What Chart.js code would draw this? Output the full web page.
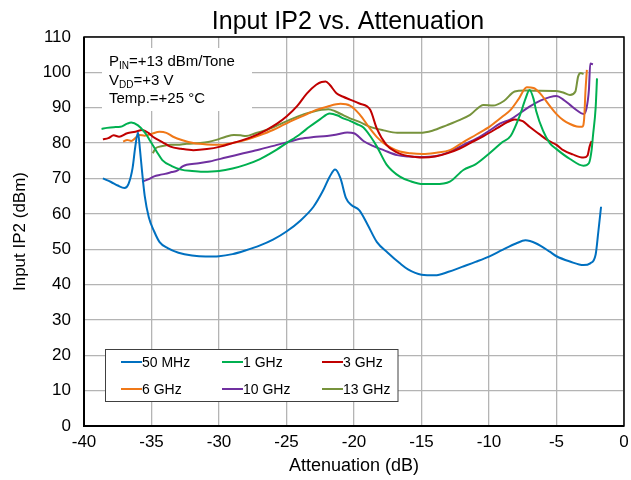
<!DOCTYPE html>
<html>
<head>
<meta charset="utf-8">
<script src="https://cdn.jsdelivr.net/npm/chart.js@4.4.0/dist/chart.umd.min.js"></script>
<style>
  html, body { margin: 0; padding: 0; background: #fff; }
</style>
</head>
<body>
<canvas id="ip2-chart" width="631" height="480"></canvas>
<script>
// series labels + colours
var seriesNames = ['50 MHz', '1 GHz', '3 GHz', '6 GHz', '10 GHz', '13 GHz'];
var seriesColors = ['#0070C0', '#00B050', '#C00000', '#F07818', '#7030A0', '#77933C'];

// attenuation (dB) / input IP2 (dBm)
var att50M = [-38.6, -38, -37.5, -37, -36.7, -36.4, -36.2, -36.0, -35.85, -35.7, -35.5, -35.2, -34.8, -34.4, -33.8, -33, -32, -31, -30, -29, -28, -27, -26, -25, -24, -23, -22.3, -21.8, -21.4, -21, -20.6, -20.2, -19.6, -19, -18.3, -17.5, -16.6, -16, -15, -14, -13, -12, -11, -10, -9, -8, -7.3, -6.5, -5.5, -5, -4, -3, -2.5, -2.1, -1.9, -1.7];
var ip2_50M = [70, 69, 68, 67.3, 68.5, 73, 79, 83, 78, 72, 65, 59, 55, 52, 50.3, 49, 48.2, 47.9, 48, 48.6, 49.7, 51, 52.7, 55, 58, 62, 66.5, 70.5, 72.5, 70, 64.5, 62.5, 61, 57, 52, 49, 46, 44.3, 42.8, 42.6, 43.6, 45, 46.4, 47.9, 49.8, 51.6, 52.5, 51.6, 49.3, 48, 46.5, 45.5, 46, 48.5, 55, 62];

var att1G = [-38.7, -38.3, -37.8, -37.3, -36.8, -36.5, -36.0, -35.5, -35.0, -34.6, -34.2, -33.5, -32.8, -32, -31.2, -30, -29, -28, -27, -26, -25, -24, -23.3, -22.5, -21.8, -21.2, -20.8, -20.3, -19.8, -19.3, -18.8, -18.3, -17.6, -16.6, -15.8, -14.9, -14, -12.9, -11.9, -11, -10, -9, -8.4, -7.7, -7.3, -7.0, -6.7, -6.5, -6.0, -5.5, -5.0, -4.0, -3.0, -2.6, -2.4, -2.3, -2.1, -2.0];
var ip2_1G = [84, 84.3, 84.5, 84.6, 85.5, 85.8, 85, 83, 80, 77.5, 75.2, 73.5, 72.5, 72.1, 71.9, 72.1, 72.8, 73.9, 75.4, 77.5, 80, 82.5, 84.6, 86.8, 88.4, 87.8, 87, 86.3, 85.4, 84.4, 82, 79, 74, 70.5, 69.2, 68.4, 68.4, 69.1, 72.4, 74, 77, 80.3, 82, 88, 92.5, 95, 92.5, 89, 83.5, 80, 78.3, 75.5, 73.6, 74.3, 78, 82, 90, 98.3];

var att3G = [-38.6, -38.2, -37.8, -37.4, -36.8, -36.2, -35.7, -35.2, -34.9, -34.2, -33.6, -32.8, -31.9, -30.9, -29.9, -29, -28.2, -27.3, -26.5, -25.7, -25, -24.2, -23.5, -22.8, -22.4, -22.1, -21.8, -21.3, -20.8, -20.3, -19.6, -18.8, -18.3, -17.6, -16.9, -16.3, -15.5, -14.9, -13.9, -13.1, -12.2, -11.4, -10.4, -9.4, -8.6, -8.1, -7.5, -7.0, -6.3, -5.7, -5.0, -4.5, -3.8, -3.0, -2.7, -2.55, -2.4];
var ip2_3G = [81.1, 81.4, 82.2, 81.8, 82.8, 83.2, 83.7, 82.8, 81.8, 80.3, 79, 78.4, 78, 78.3, 79, 80, 80.9, 82.2, 83.7, 85.5, 87.5, 90.5, 94, 96.5, 97.3, 97.4, 96.5, 94.1, 93.1, 92.3, 91.2, 89.4, 84, 79.5, 77.5, 76.6, 76.1, 75.9, 76.3, 77.1, 78.4, 80, 82, 84.2, 86, 86.7, 86.2, 84.6, 82.6, 80.9, 79.5, 78, 76.8, 75.9, 76.5, 79, 80.6];

var att6G = [-37.1, -36.8, -36.5, -36.2, -35.9, -35.5, -35, -34.4, -33.9, -33.4, -32.7, -31.9, -30.9, -29.9, -29, -28, -27, -26, -25.2, -24.5, -23.6, -22.8, -22, -21.0, -20.3, -19.6, -18.8, -18.3, -17.8, -17.2, -16.6, -15.8, -14.9, -13.9, -12.9, -11.9, -10.9, -9.9, -9, -8.4, -7.8, -7.2, -6.7, -6.2, -5.5, -5.0, -4.5, -4.0, -3.5, -3.1, -2.95, -2.85, -2.75];
var ip2_6G = [80.4, 80.9, 80.6, 81.4, 82.3, 82.1, 82.6, 83.2, 82.9, 81.8, 80.8, 80, 79.6, 79.5, 80, 80.9, 82.2, 83.7, 85.2, 86.5, 88, 89.4, 90.3, 91.1, 90.6, 88.2, 84, 81.7, 80, 78.6, 77.6, 77.1, 76.9, 77.3, 78, 80.3, 82.5, 84.8, 87.5, 89.4, 92.5, 95.8, 95.6, 94, 90.5, 88.2, 86.5, 85.4, 84.7, 84.6, 87, 95, 100.7];

var att10G = [-35.7, -35.2, -34.8, -34.4, -34, -33.5, -33.1, -32.7, -32.4, -31.5, -30.7, -29.5, -28.2, -27, -25.7, -24.8, -24, -23, -22, -21.2, -20.5, -20, -19.3, -18.6, -17.8, -16.8, -16, -15.1, -14, -12.9, -11.9, -10.9, -9.9, -9.2, -8.4, -7.7, -7.0, -6.2, -5.5, -5.0, -4.5, -4.0, -3.5, -3.0, -2.8, -2.6, -2.5, -2.3];
var ip2_10G = [69.1, 69.8, 70.6, 71, 71.3, 71.8, 72.2, 73.4, 73.9, 74.3, 74.8, 75.9, 77.1, 78.2, 79.5, 80.4, 81.2, 81.7, 82, 82.5, 83, 82.8, 80.6, 79.2, 78, 76.6, 76.2, 76.1, 76.3, 77.5, 79.5, 81.3, 83.7, 85.5, 86.7, 88.5, 90.3, 92, 93, 93.3, 92.3, 90.8, 89.3, 88.2, 89.5, 95, 102.5, 102.3];

var att13G = [-34.9, -34.7, -34.4, -34.0, -33.6, -33.1, -32.4, -31.4, -30.8, -30.2, -29.5, -28.9, -28.4, -28, -27.3, -26.5, -25.5, -24.5, -23.7, -23, -22.4, -21.9, -21.4, -20.8, -20.3, -19.6, -18.8, -17.8, -16.8, -15.1, -14.2, -13.1, -12.2, -11.4, -10.4, -9.7, -8.9, -8.1, -7.4, -6.7, -5.0, -4.5, -4.0, -3.6, -3.4, -3.2, -3.0];
var ip2_13G = [77.1, 78.5, 79, 79.3, 79.5, 79.5, 79.8, 80, 80.3, 80.9, 81.8, 82.3, 82.2, 82, 82.8, 83.7, 85.3, 87, 88.2, 88.9, 89.4, 89.6, 89, 87.9, 87, 86, 84.6, 83.6, 82.9, 82.9, 83.5, 85.1, 86.5, 88, 90.8, 90.6, 91.9, 94.6, 94.9, 94.8, 94.7, 94.3, 93.6, 94.6, 98.8, 99.8, 99.5];

var xTickStep = 5;
var yTickStep = 10;

var xSeries = [att50M, att1G, att3G, att6G, att10G, att13G];
var ySeries = [ip2_50M, ip2_1G, ip2_3G, ip2_6G, ip2_10G, ip2_13G];

function toPoints(xs, ys) {
  var pts = [];
  for (var i = 0; i < xs.length; i++) {
    pts.push({ x: xs[i], y: ys[i] });
  }
  return pts;
}

var datasets = seriesNames.map(function (name, i) {
  return {
    label: name,
    data: toPoints(xSeries[i], ySeries[i]),
    borderColor: seriesColors[i],
    backgroundColor: seriesColors[i],
    borderWidth: 2,
    pointRadius: 0,
    cubicInterpolationMode: 'monotone',
    fill: false
  };
});

var FONT = '"Liberation Sans", Arial, sans-serif';

// title, plot frame, conditions note and legend box
var decorPlugin = {
  id: 'decor',
  afterDraw: function (chart) {
    var ctx = chart.ctx;
    var a = chart.chartArea;
    ctx.save();

    // frame
    ctx.strokeStyle = '#000';
    ctx.lineWidth = 1.5;
    ctx.strokeRect(a.left, a.top, a.right - a.left, a.bottom - a.top);
    ctx.lineWidth = 2;
    ctx.beginPath();
    ctx.moveTo(a.left, a.top);
    ctx.lineTo(a.left, a.bottom);
    ctx.lineTo(a.right, a.bottom);
    ctx.stroke();

    // title
    ctx.fillStyle = '#000';
    ctx.font = '25px ' + FONT;
    ctx.textAlign = 'center';
    ctx.textBaseline = 'alphabetic';
    ctx.fillText('Input IP2 vs. Attenuation', 348, 29);

    // test conditions note
    ctx.fillStyle = '#fff';
    ctx.fillRect(102, 48, 150, 63);
    ctx.fillStyle = '#000';
    ctx.textAlign = 'left';
    function sub(main, low, rest, x, y) {
      ctx.font = '15px ' + FONT;
      ctx.fillText(main, x, y);
      x += ctx.measureText(main).width;
      ctx.font = '10px ' + FONT;
      ctx.fillText(low, x, y + 3);
      x += ctx.measureText(low).width;
      ctx.font = '15px ' + FONT;
      ctx.fillText(rest, x, y);
    }
    sub('P', 'IN', '=+13 dBm/Tone', 109, 66);
    sub('V', 'DD', '=+3 V', 109, 84.5);
    ctx.font = '15px ' + FONT;
    ctx.fillText('Temp.=+25 \u00B0C', 109, 103);

    // legend
    ctx.fillStyle = '#fff';
    ctx.fillRect(105.5, 349.5, 292.5, 52);
    ctx.strokeStyle = '#404040';
    ctx.lineWidth = 1;
    ctx.strokeRect(105.5, 349.5, 292.5, 52);
    var cols = [121, 222, 322];
    var rows = [362, 389];
    ctx.font = '14px ' + FONT;
    ctx.textBaseline = 'middle';
    chart.data.datasets.forEach(function (ds, i) {
      var x = cols[i % 3];
      var y = rows[Math.floor(i / 3)];
      ctx.strokeStyle = ds.borderColor;
      ctx.lineWidth = 2;
      ctx.beginPath();
      ctx.moveTo(x, y);
      ctx.lineTo(x + 21, y);
      ctx.stroke();
      ctx.fillStyle = '#000';
      ctx.fillText(ds.label, x + 21, y + 1);
    });

    ctx.restore();
  }
};

var gridColor = '#b4b4b4';

var ip2Chart = new Chart(document.getElementById('ip2-chart'), {
  type: 'line',
  data: { datasets: datasets },
  options: {
    responsive: false,
    animation: false,
    layout: { padding: { top: 37, right: 7, left: 0, bottom: 0 } },
    plugins: {
      legend: { display: false },
      title: { display: false },
      tooltip: { enabled: false }
    },
    scales: {
      x: {
        type: 'linear',
        min: -40,
        max: 0,
        ticks: { stepSize: xTickStep, color: '#000', font: { size: 17, family: FONT }, padding: 6 },
        grid: { color: gridColor, lineWidth: 1.3, drawTicks: false },
        border: { display: false },
        title: { display: true, text: 'Attenuation (dB)', color: '#000', font: { size: 18, family: FONT }, padding: { top: 1, bottom: 3 } },
        afterFit: function (scale) {
          scale.height = 54;
          scale.paddingRight = 4;
        }
      },
      y: {
        type: 'linear',
        min: 0,
        max: 110,
        ticks: { stepSize: yTickStep, color: '#000', font: { size: 17, family: FONT }, padding: 13 },
        grid: { color: gridColor, lineWidth: 1.3, drawTicks: false },
        border: { display: false },
        title: { display: true, text: 'Input IP2 (dBm)', color: '#000', font: { size: 17, family: FONT }, padding: { top: 10, bottom: 4 } },
        afterFit: function (scale) { scale.width = 84; }
      }
    }
  },
  plugins: [decorPlugin]
});
</script>
</body>
</html>
